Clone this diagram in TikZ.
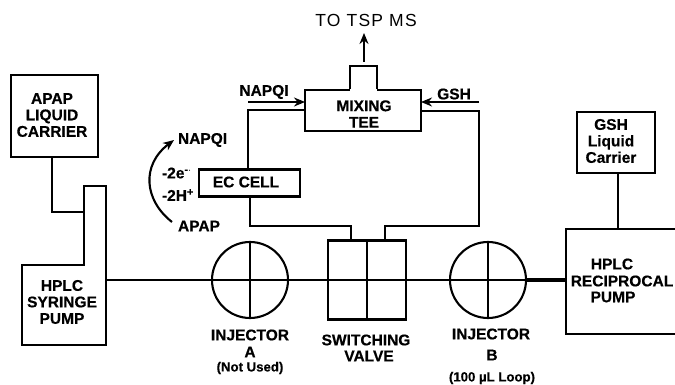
\documentclass[tikz,border=0pt]{standalone}
\usepackage{fontspec}
\setmainfont{Liberation Sans}
\newfontfamily\heavyfont[FakeBold=0.5]{Liberation Sans Bold}
\newfontfamily\spacedfont[LetterSpace=7]{Liberation Sans}
\usetikzlibrary{arrows.meta}
\tikzset{
  x=1pt,y=-1pt,
  every path/.style={line width=2.1pt,line join=miter},
  boxnode/.style={draw,rectangle,inner sep=0pt,outer sep=0pt},
  circnode/.style={draw,circle,inner sep=0pt,outer sep=0pt,minimum size=76pt},
  lab/.style={inner sep=0pt,align=center,font=\fontsize{15.5}{16.5}\selectfont\heavyfont},
  smalllab/.style={inner sep=0pt,align=center,font=\fontsize{13.2}{15}\selectfont\heavyfont},
  flow/.style={-{Stealth[length=11pt,width=9pt]}},
}
\begin{document}
\begin{tikzpicture}
\useasboundingbox (0,0) rectangle (675,385);
% boxes
\node[boxnode,minimum width=87pt,minimum height=82pt] (apap) at (54.5,116) {};
\node[boxnode,minimum width=78pt,minimum height=61pt] (gsh) at (616,142.5) {};
\node[boxnode,minimum width=101pt,minimum height=27pt] (ec) at (249.5,183) {};
\node[boxnode,minimum width=78pt,minimum height=79pt] (valve) at (367,280) {};
\node[circnode] (inja) at (250,280) {};
\node[circnode] (injb) at (488,280) {};
\node[boxnode,minimum width=116pt,minimum height=41pt] (tee) at (363,110.5) {};
% named free points
\coordinate (syrTL) at (84,186);
\coordinate (syrTR) at (106,186);
\coordinate (syrBR) at (106,345);
\coordinate (syrBL) at (22,345);
\coordinate (syrML) at (22,265);
\coordinate (syrMI) at (84,265);
\coordinate (recTR) at (675,229);
\coordinate (recTL) at (566,229);
\coordinate (recBL) at (566,334);
\coordinate (recBR) at (675,334);
\coordinate (stubL) at (350,90);
\coordinate (stubLT) at (350,66);
\coordinate (stubRT) at (377,66);
\coordinate (stubR) at (377,90);
\coordinate (outA) at (364,62);
\coordinate (outB) at (364,33);
\coordinate (napS) at (248,102);
\coordinate (gshS) at (479,102);
\coordinate (valL) at (351,241);
\coordinate (valR) at (385,241);
\coordinate (bendL) at (250,226);
\coordinate (bendR) at (479,226);
\coordinate (syrIn) at (84,212);
\coordinate (syrOut) at (106,280);
\coordinate (recIn) at (566,280);
\coordinate (apapCv) at (172,222);
\coordinate (napCv) at (174,140);
% syringe pump outline
\draw (syrMI) -- (syrTL) -- (syrTR) -- (syrBR) -- (syrBL) -- (syrML) -- cycle;
% reciprocal pump outline (runs off the right edge)
\draw (recTR) -- (recTL) -- (recBL) -- (recBR);
% tee top stub
\draw[fill=white] (stubL) -- (stubLT) -- (stubRT) -- (stubR);
\draw[white,line width=1.8pt] (stubL) -- (stubR);
% circle and valve crosses
\draw (inja.north) -- (inja.south);
\draw (injb.north) -- (injb.south);
\draw (valve.north) -- (valve.south);
% connectors
\draw (apap.south -| 52,0) -- (52,212) -- (syrIn);
\draw (gsh.south -| 618,0) -- (recTL -| 618,0);
\draw (syrOut) -- (inja.west);
\draw (inja.west) -- (inja.east);
\draw (inja.east) -- (valve.west);
\draw (valve.west) -- (valve.east);
\draw (valve.east) -- (injb.west);
\draw (injb.west) -- (injb.east);
\draw[line width=3.4pt] (injb.east) -- (recIn);
\draw (ec.north -| 248,0) -- (248,110) -- (tee.west |- 0,110);
\draw (ec.south -| 250,0) -- (bendL) -| (valL);
\draw (valR) |- (bendR) -- (gshS |- 0,111) -- (tee.east |- 0,111);
\draw[flow] (outA) -- (outB);
\draw[flow] (napS) -- (tee.west |- napS);
\draw[flow] (gshS) -- (tee.east |- gshS);
\draw[flow] (apapCv) .. controls (144,200) and (141,165) .. (napCv);
% labels
\node[lab] (tapap) at (52,115) {APAP\\LIQUID\\CARRIER};
\node[lab] (tsyr) at (62,302) {HPLC\\SYRINGE\\PUMP};
\node[lab] (tnap) at (264,92) {NAPQI};
\node[lab] (tgsh) at (454,94) {GSH};
\node[lab] (tmix) at (364,114) {MIXING\\TEE};
\node[lab] (tgl) at (611,141) {GSH\\Liquid\\Carrier};
\node[lab] (trec1) at (612,264) {HPLC};
\node[lab] (trec2) at (622,281) {RECIPROCAL};
\node[lab] (trec3) at (613,297) {PUMP};
\node[lab] (tec) at (246,182) {EC CELL};
\node[lab,anchor=west] (tn2) at (177,140) {NAPQI};
\node[lab,anchor=west] (ta2) at (177,226) {APAP};
\node[lab,anchor=west] (te) at (161,173) {-2e\textsuperscript{-$\cdot$}};
\node[lab,anchor=west] (th) at (161,195) {-2H\textsuperscript{+}};
\node[lab] (tia) at (250,335) {INJECTOR};
\node[lab] (tiaa) at (250,352) {A};
\node[smalllab] (tian) at (250,368) {(Not Used)};
\node[lab] (tsv) at (366,340) {SWITCHING};
\node[lab] (tsvv) at (369,356) {VALVE};
\node[lab] (tib) at (491,334) {INJECTOR};
\node[lab] (tibb) at (492,355) {B};
\node[smalllab] (tibl) at (492,378) {(100 µL Loop)};
\node[inner sep=0pt,font=\fontsize{17.5}{18}\selectfont\spacedfont] (tms) at (366,20) {TO TSP MS};
\end{tikzpicture}
\end{document}
